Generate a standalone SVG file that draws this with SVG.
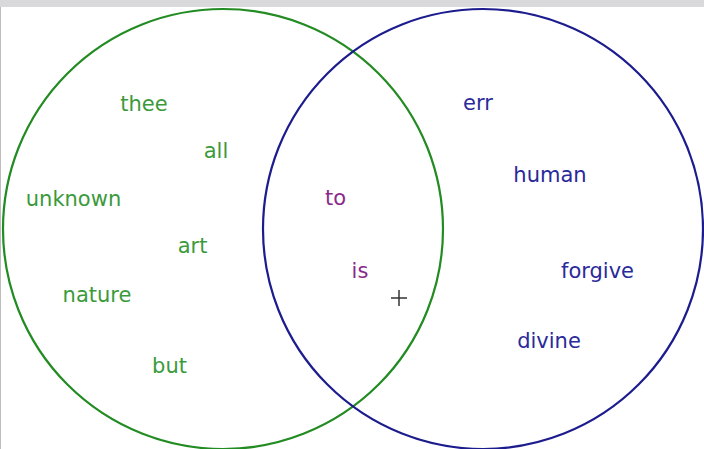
<svg xmlns="http://www.w3.org/2000/svg" width="704" height="449" viewBox="0 0 704 449">
<style>
text{font-family:"DejaVu Sans","Liberation Sans",sans-serif;font-size:21px;text-anchor:middle}
.g{fill:#3b9a3b}
.b{fill:#2a2a9a}
.p{fill:#8a2a8a}
.ring{fill:none;stroke-width:2.2}
</style>
<rect x="0" y="0" width="704" height="449" fill="#ffffff"/>
<rect x="0" y="0" width="704" height="7" fill="#d9d9db"/>
<line x1="0.5" y1="7" x2="0.5" y2="449" stroke="#bdbdbd" stroke-width="1"/>
<g id="set-left">
<circle class="ring" cx="223" cy="229" r="220" stroke="#228b22"/>
<text class="g" x="144" y="111">thee</text>
<text class="g" x="216" y="158">all</text>
<text class="g" x="73.5" y="206">unknown</text>
<text class="g" x="192.5" y="253">art</text>
<text class="g" x="97" y="302">nature</text>
<text class="g" x="169.5" y="373">but</text>
</g>
<g id="set-right">
<circle class="ring" cx="483" cy="229" r="220" stroke="#1c1c8e"/>
<text class="b" x="478" y="110">err</text>
<text class="b" x="550" y="182">human</text>
<text class="b" x="597.5" y="278">forgive</text>
<text class="b" x="549" y="348">divine</text>
</g>
<g id="intersection">
<text class="p" x="335.5" y="205">to</text>
<text class="p" x="360" y="278">is</text>
</g>
<g id="connectors"></g>
<g id="cursor" stroke="#333333" stroke-width="1.5">
<line x1="391" y1="298" x2="407" y2="298"/>
<line x1="399" y1="290" x2="399" y2="306"/>
</g>
</svg>
